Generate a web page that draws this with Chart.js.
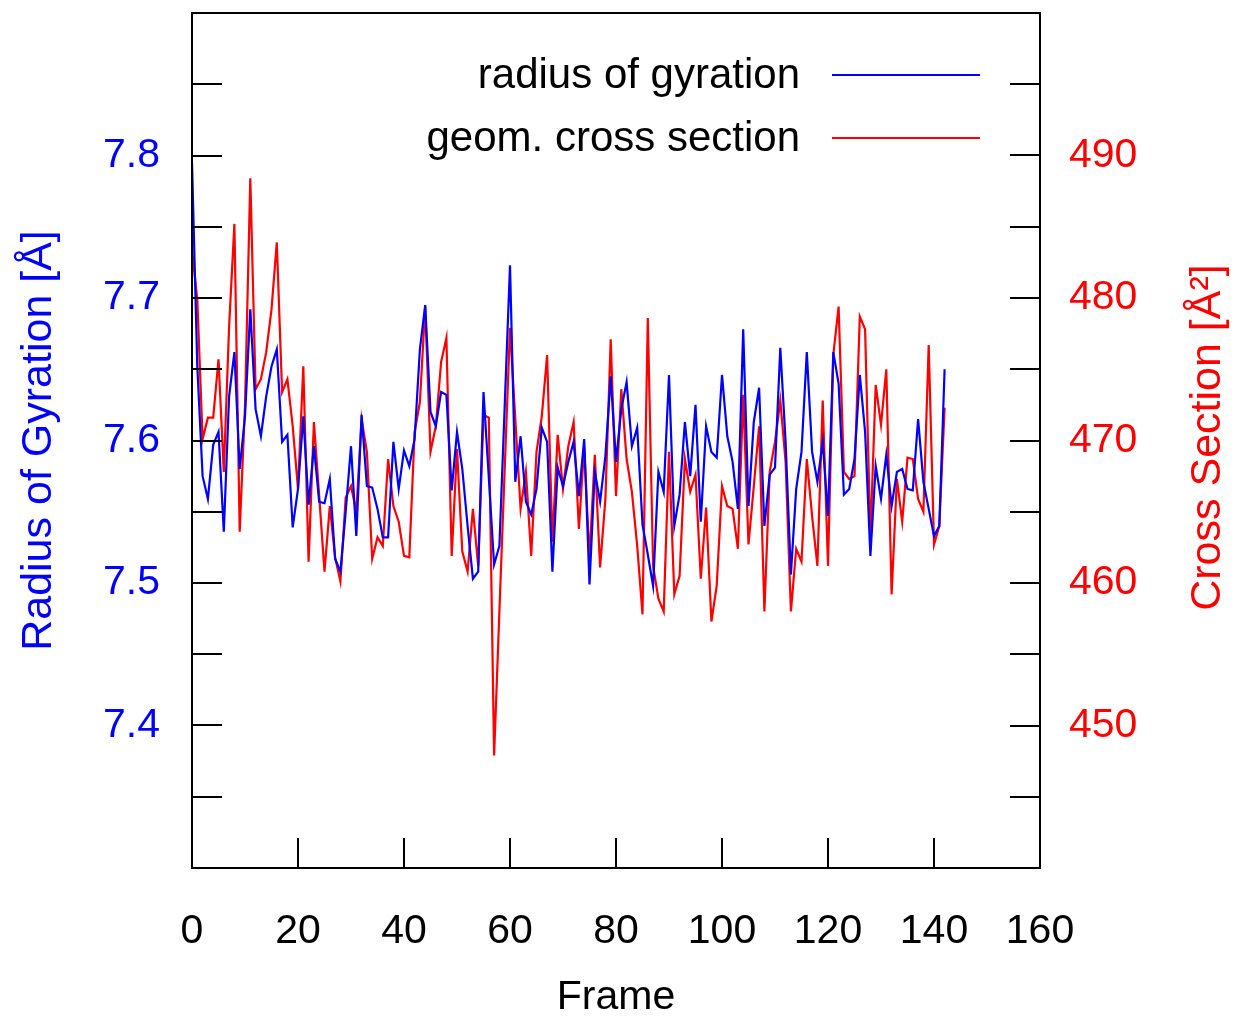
<!DOCTYPE html>
<html><head><meta charset="utf-8">
<script src="https://cdn.jsdelivr.net/npm/chart.js@4/dist/chart.umd.min.js"></script>
<style>html,body{margin:0;padding:0;background:#fff;}#wrap{width:1235px;height:1016px;}</style>
</head><body><div id="wrap"><canvas id="c" width="1235" height="1016"></canvas></div>
<script>
// ---- data (frame index = position in array) ----
const radiusOfGyration = [
7.795,7.652,7.575,7.559,7.597,7.606,7.536,7.631,7.662,7.580,
7.617,7.692,7.622,7.603,7.631,7.652,7.664,7.599,7.604,7.539,
7.566,7.617,7.555,7.596,7.557,7.556,7.573,7.517,7.508,7.550,
7.596,7.533,7.618,7.568,7.567,7.552,7.532,7.532,7.599,7.566,
7.593,7.582,7.601,7.664,7.695,7.620,7.610,7.634,7.632,7.565,
7.606,7.580,7.540,7.503,7.508,7.634,7.574,7.513,7.526,7.624,
7.723,7.571,7.603,7.557,7.548,7.566,7.609,7.599,7.508,7.581,
7.568,7.585,7.599,7.561,7.601,7.499,7.578,7.557,7.589,7.645,
7.585,7.622,7.641,7.596,7.609,7.541,7.520,7.498,7.578,7.564,
7.646,7.540,7.562,7.613,7.575,7.625,7.543,7.610,7.592,7.588,
7.646,7.603,7.585,7.552,7.678,7.554,7.613,7.637,7.540,7.576,
7.581,7.665,7.599,7.506,7.566,7.592,7.662,7.592,7.571,7.599,
7.547,7.662,7.640,7.562,7.566,7.587,7.646,7.606,7.519,7.582,
7.559,7.590,7.554,7.578,7.580,7.566,7.565,7.615,7.571,7.552,
7.533,7.540,7.650
];
const crossSection = [
483.4,479.9,470.1,471.6,471.6,475.7,467.8,478.0,485.2,463.6,
472.4,488.4,473.6,474.3,476.2,479.2,483.9,473.4,474.3,471.0,
466.6,475.2,461.5,471.3,466.1,460.8,465.4,461.8,460.1,466.0,
466.8,465.0,471.5,469.2,461.7,463.2,462.6,468.7,465.4,464.3,
461.9,461.8,470.6,472.7,479.4,469.2,471.0,475.5,477.2,461.9,
469.4,462.2,460.8,465.2,461.2,471.8,471.6,447.9,458.0,468.0,
477.9,471.5,465.2,467.8,461.9,469.2,471.7,476.0,462.9,470.4,
466.6,469.6,471.3,463.8,469.6,461.7,469.0,461.1,465.9,477.1,
466.1,473.6,468.7,466.4,462.6,457.8,478.6,461.2,458.9,458.0,
469.2,459.2,460.5,468.7,466.4,467.6,460.3,465.3,457.3,459.8,
466.8,465.4,465.2,462.4,473.2,462.7,466.8,471.0,458.0,467.8,
469.9,472.8,468.5,458.0,462.4,461.5,468.7,464.7,461.2,472.8,
461.2,476.0,479.4,467.8,467.3,467.5,478.7,477.8,463.2,473.9,
471.1,475.0,459.2,467.3,464.3,468.8,468.7,465.9,465.0,476.7,
462.7,464.0,472.3
];
const seriesLabels = ['radius of gyration', 'geom. cross section'];
const xTickLabels = ['0','20','40','60','80','100','120','140','160'];
const leftTickLabels = ['7.4','7.5','7.6','7.7','7.8'];
const rightTickLabels = ['450','460','470','480','490'];
const axisTitles = {x: 'Frame', left: 'Radius of Gyration [Å]', right: 'Cross Section [Å²]'};

const FONT = 'Liberation Sans, Arial, Helvetica, sans-serif';
const FS = 41;
const TFS = 43;
const LFS = 42;
const BLUE = '#0000ff', RED = '#ff0000';

const toXY = arr => arr.map((v, i) => ({x: i, y: v}));

const framePlugin = {
  id: 'frame',
  afterDatasetsDraw(chart) {
    const {ctx, chartArea: a, scales} = chart;
    const TL = 30;
    ctx.save();
    ctx.strokeStyle = '#000';
    ctx.lineWidth = 2;
    ctx.beginPath();
    scales.y.ticks.forEach(t => {
      const y = Math.round(scales.y.getPixelForValue(t.value));
      if (y <= a.top + 1 || y >= a.bottom - 1) return;
      ctx.moveTo(a.left, y); ctx.lineTo(a.left + TL, y);
    });
    scales.y2.ticks.forEach(t => {
      const y = Math.round(scales.y2.getPixelForValue(t.value));
      if (y <= a.top + 1 || y >= a.bottom - 1) return;
      ctx.moveTo(a.right, y); ctx.lineTo(a.right - TL, y);
    });
    scales.x.ticks.forEach(t => {
      const x = Math.round(scales.x.getPixelForValue(t.value));
      if (x <= a.left + 1 || x >= a.right - 1) return;
      ctx.moveTo(x, a.bottom); ctx.lineTo(x, a.bottom - TL);
    });
    ctx.stroke();
    ctx.strokeRect(a.left, a.top, a.right - a.left, a.bottom - a.top);

    // legend
    ctx.font = LFS + 'px ' + FONT;
    ctx.textAlign = 'right';
    ctx.textBaseline = 'middle';
    const rows = [76, 139];
    chart.data.datasets.forEach((ds, i) => {
      ctx.fillStyle = '#000';
      ctx.fillText(ds.label, 800, rows[i]);
      ctx.strokeStyle = ds.borderColor;
      ctx.lineWidth = 2;
      ctx.beginPath();
      ctx.moveTo(832, rows[i] - 1); ctx.lineTo(980, rows[i] - 1);
      ctx.stroke();
    });

    // right axis title (reads bottom to top)
    ctx.save();
    ctx.font = TFS + 'px ' + FONT;
    ctx.translate(1208, (a.top + a.bottom) / 2 - 3);
    ctx.rotate(-Math.PI / 2);
    ctx.textAlign = 'center';
    ctx.textBaseline = 'middle';
    ctx.fillStyle = RED;
    ctx.fillText(axisTitles.right, 0, 0);
    ctx.restore();
    ctx.restore();
  }
};

const near = (v, step) => Math.abs(v / step - Math.round(v / step)) < 1e-6;
const noPad = s => { s.paddingTop = 0; s.paddingBottom = 0; s.paddingLeft = 0; s.paddingRight = 0; };

new Chart(document.getElementById('c'), {
  type: 'line',
  data: {
    datasets: [
      {label: seriesLabels[0], data: toXY(radiusOfGyration), yAxisID: 'y',
       borderColor: BLUE, borderWidth: 2.2, pointRadius: 0, tension: 0, fill: false},
      {label: seriesLabels[1], data: toXY(crossSection), yAxisID: 'y2',
       borderColor: RED, borderWidth: 2.2, pointRadius: 0, tension: 0, fill: false}
    ]
  },
  options: {
    responsive: false,
    animation: false,
    layout: {padding: {top: 13, left: 0, right: 0, bottom: 0}},
    plugins: {legend: {display: false}, tooltip: {enabled: false}},
    scales: {
      x: {
        type: 'linear', min: 0, max: 160,
        afterFit: s => { s.height = 148; noPad(s); },
        grid: {display: false, drawTicks: false},
        border: {display: false},
        ticks: {
          stepSize: 20, padding: 39, color: '#000', maxRotation: 0,
          font: {family: FONT, size: FS},
          callback: v => xTickLabels.includes(String(v)) ? String(v) : ''
        },
        title: {display: true, text: axisTitles.x, color: '#000',
                font: {family: FONT, size: FS, lineHeight: 1}, padding: {top: 0, bottom: -2.5}}
      },
      y: {
        type: 'linear', position: 'left', min: 7.3, max: 7.9,
        afterFit: s => { s.width = 192; noPad(s); },
        grid: {display: false, drawTicks: false},
        border: {display: false},
        ticks: {
          stepSize: 0.05, padding: 32, color: BLUE,
          font: {family: FONT, size: FS},
          callback: v => { const s = v.toFixed(1); return (near(v, 0.1) && leftTickLabels.includes(s)) ? s : ''; }
        },
        title: {display: true, text: axisTitles.left, color: BLUE,
                font: {family: FONT, size: TFS}, padding: {top: 13, bottom: 0}}
      },
      y2: {
        type: 'linear', position: 'right', min: 440, max: 500,
        afterFit: s => { s.width = 195; noPad(s); },
        grid: {display: false, drawTicks: false},
        border: {display: false},
        ticks: {
          stepSize: 5, padding: 29, color: RED,
          font: {family: FONT, size: FS},
          callback: v => { const s = String(Math.round(v)); return (near(v, 10) && rightTickLabels.includes(s)) ? s : ''; }
        }
      }
    }
  },
  plugins: [framePlugin]
});
</script></body></html>
